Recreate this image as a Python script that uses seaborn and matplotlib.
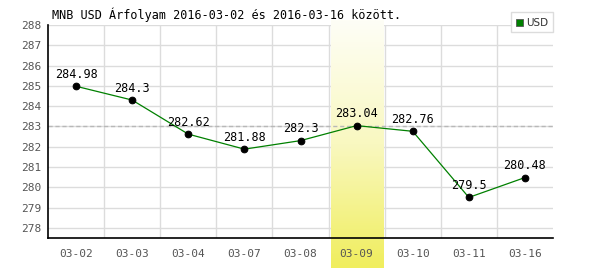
import matplotlib
matplotlib.use("Agg")
import matplotlib.pyplot as plt
import matplotlib.transforms as mtransforms
from matplotlib.colors import LinearSegmentedColormap
from matplotlib.patches import Rectangle
import seaborn as sns
import numpy as np
import pandas as pd

dates = ["03-02", "03-03", "03-04", "03-07", "03-08", "03-09", "03-10", "03-11", "03-16"]
values = [284.98, 284.3, 282.62, 281.88, 282.3, 283.04, 282.76, 279.5, 280.48]
yticks = [278, 279, 280, 281, 282, 283, 284, 285, 286, 287, 288]
highlight = "03-09"
ref_value = 283.04
title = "MNB USD Árfolyam 2016-03-02 és 2016-03-16 között."

sns.set_style("white")
df = pd.DataFrame({"date": dates, "value": values})

fig = plt.figure(figsize=(6, 2.7), dpi=100)
ax = fig.add_axes([48/600, 1-238/270, 505/600, 213/270])
ax.set_axisbelow(False)

x = np.arange(len(dates))
df["x"] = x
ax.set_xlim(-0.5, len(dates) - 0.5)
ax.set_ylim(277.5, 288)

# grid
for yv in yticks:
    ax.axhline(yv, color="#dcdcdc", lw=1, zorder=1)
for b in np.arange(0.5, len(dates) - 1, 1):
    ax.axvline(b, color="#dcdcdc", lw=1, zorder=1)

# highlight band with gradient (covers grid)
hi = dates.index(highlight)
grad = np.linspace(0, 1, 100).reshape(-1, 1)
cmap = LinearSegmentedColormap.from_list("yl", ["#fefef6", "#f9f8c0", "#f0ee5e"])
trans = mtransforms.blended_transform_factory(ax.transData, ax.transAxes)
ax.imshow(grad, cmap=cmap, aspect="auto", origin="upper",
          extent=(hi - 0.5 + 0.035, hi + 0.5 - 0.025, -0.14, 1.02),
          transform=trans, clip_on=False, zorder=1.2)

ax.axhline(ref_value, color="#b8b8b8", lw=1, ls=(0, (3, 2)), zorder=1.5)

sns.lineplot(data=df, x="x", y="value", ax=ax, color="#008000", lw=0.9,
             marker="o", markersize=4.8, markerfacecolor="black",
             markeredgecolor="black", zorder=3)

for xi, v in zip(x, values):
    ax.annotate(f"{v:g}", (xi, v), xytext=(0, 4), textcoords="offset points",
                ha="center", va="bottom", fontsize=8.5,
                family="DejaVu Sans Mono", color="black", zorder=4)

ax.set_xticks(x)
ax.set_xticklabels(dates)
ax.set_yticks(yticks)
ax.set_yticklabels([str(t) for t in yticks])
ax.tick_params(axis="both", labelsize=8, colors="#555555", length=0, pad=8)
ax.tick_params(axis="y", pad=5)
for lbl in ax.get_xticklabels() + ax.get_yticklabels():
    lbl.set_family("DejaVu Sans Mono")
ax.set_xlabel("")
ax.set_ylabel("")

for s in ["top", "right"]:
    ax.spines[s].set_visible(False)
for s in ["left", "bottom"]:
    ax.spines[s].set_color("black")
    ax.spines[s].set_linewidth(1.2)
    ax.spines[s].set_zorder(5)

fig.text(52/600, 1-15/270, title, family="DejaVu Sans Mono", fontsize=8.5,
         va="center", ha="left", color="black")

# legend
lg = Rectangle((511/600, 1-32/270), 42/600, 20/270, transform=fig.transFigure,
               facecolor="white", edgecolor="#dcdcdc", lw=1, zorder=5)
fig.add_artist(lg)
sq = Rectangle((516/600, 1-26/270), 7/600, 7/270, transform=fig.transFigure,
               facecolor="#008000", edgecolor="#555555", lw=0.6, zorder=6)
fig.add_artist(sq)
fig.text(526/600, 1-22.5/270, "USD", fontsize=7.5, color="#333333",
         va="center", ha="left", zorder=7)

fig.savefig("out.png", dpi=100)
